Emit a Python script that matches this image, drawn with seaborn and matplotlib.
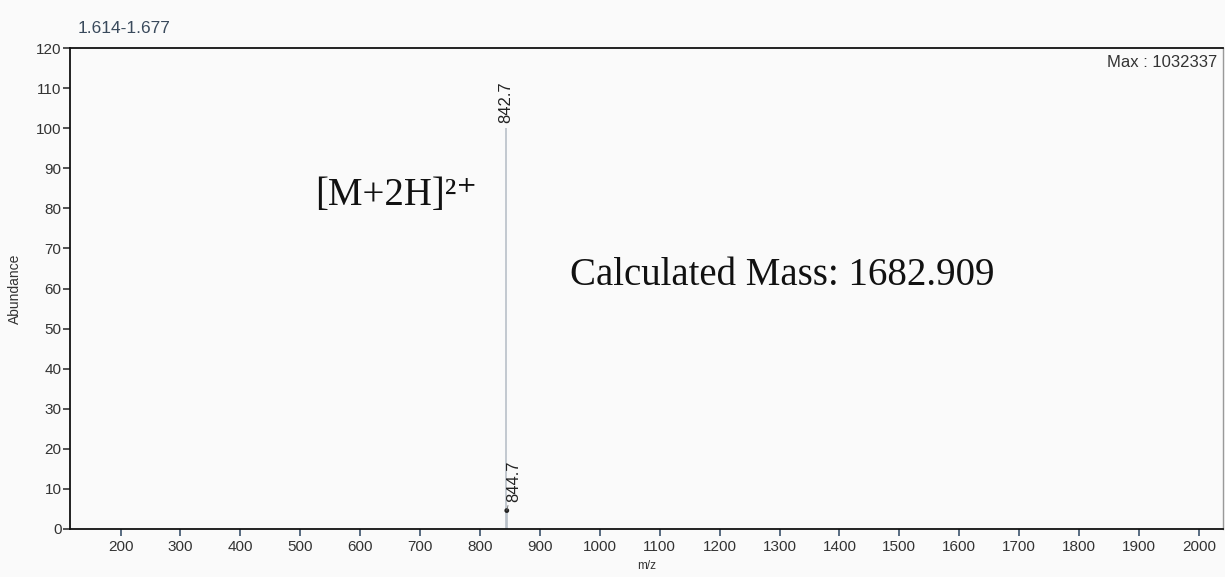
import matplotlib
matplotlib.use("Agg")
import matplotlib.pyplot as plt
import seaborn as sns
import pandas as pd
import numpy as np

# peak list
mz = [842.7, 844.7]
abundance = [100.0, 4.6]
peak_labels = ["842.7", "844.7"]
x_ticks = list(range(200, 2001, 100))
y_ticks = list(range(0, 121, 10))
time_range = "1.614-1.677"
max_text = "Max : 1032337"

df = pd.DataFrame({"mz": mz, "abundance": abundance, "label": peak_labels})

sns.set_style("white")
plt.rcParams["font.family"] = ["Liberation Sans", "DejaVu Sans"]
serif = ["Liberation Serif", "DejaVu Serif"]

bg = "#fafafa"
fig = plt.figure(figsize=(12.25, 5.77), dpi=100, facecolor=bg)
ax = fig.add_axes([0.0571, 0.0832, 0.9409, 0.8336])
ax.set_facecolor(bg)

# sticks
ax.vlines(df["mz"], 0, df["abundance"], color="#b8c0c8", lw=1.2, zorder=2)
# marker on the small isotope peak
sns.scatterplot(data=df.iloc[[1]], x="mz", y="abundance", ax=ax, color="#222222",
                s=12, edgecolor="none", zorder=3, legend=False)

ax.set_xlim(115.5, 2039.5)
ax.set_ylim(0, 120)
ax.set_xticks(x_ticks)
ax.set_yticks(y_ticks)
ax.tick_params(axis="x", bottom=True, direction="out", length=5, width=1.3,
               color="#4a6077", labelsize=11, labelcolor="#333333", pad=3)
ax.tick_params(axis="y", left=True, direction="out", length=5, width=1.1,
               color="#222222", labelsize=11, labelcolor="#333333", pad=1)
ax.set_xlabel("m/z", fontsize=8.5, color="#333333", labelpad=4)
ax.set_ylabel("Abundance", fontsize=10, color="#333333", labelpad=10)

for side in ["left", "top", "bottom"]:
    ax.spines[side].set_color("#111111")
    ax.spines[side].set_linewidth(1.3)
ax.spines["right"].set_color("#999999")
ax.spines["right"].set_linewidth(1)

# peak labels
r0 = df.iloc[0]
ax.annotate(r0["label"], (r0["mz"], r0["abundance"]), xytext=(0, 4),
            textcoords="offset points", rotation=90, ha="center", va="bottom",
            fontsize=12, color="#222222")
r1 = df.iloc[1]
ax.annotate(r1["label"], (r1["mz"], r1["abundance"]), xytext=(5, 6),
            textcoords="offset points", rotation=90, ha="center", va="bottom",
            fontsize=12, color="#222222",
            arrowprops=dict(arrowstyle="-", color="#666666", lw=0.6,
                            shrinkA=0, shrinkB=0))

ax.text(0.995, 0.985, max_text, transform=ax.transAxes, ha="right", va="top",
        fontsize=12, color="#333333")
ax.text(0.007, 1.024, time_range, transform=ax.transAxes, ha="left", va="bottom",
        fontsize=12.5, color="#3a4a5c")

ax.text(0.213, 0.694, "[M+2H]²⁺", transform=ax.transAxes, ha="left", va="center",
        fontsize=28, family=serif, color="#111111")
ax.text(0.4335, 0.528, "Calculated Mass: 1682.909", transform=ax.transAxes,
        ha="left", va="center", fontsize=28, family=serif, color="#111111")

fig.savefig("out.png", dpi=100, facecolor=bg)
